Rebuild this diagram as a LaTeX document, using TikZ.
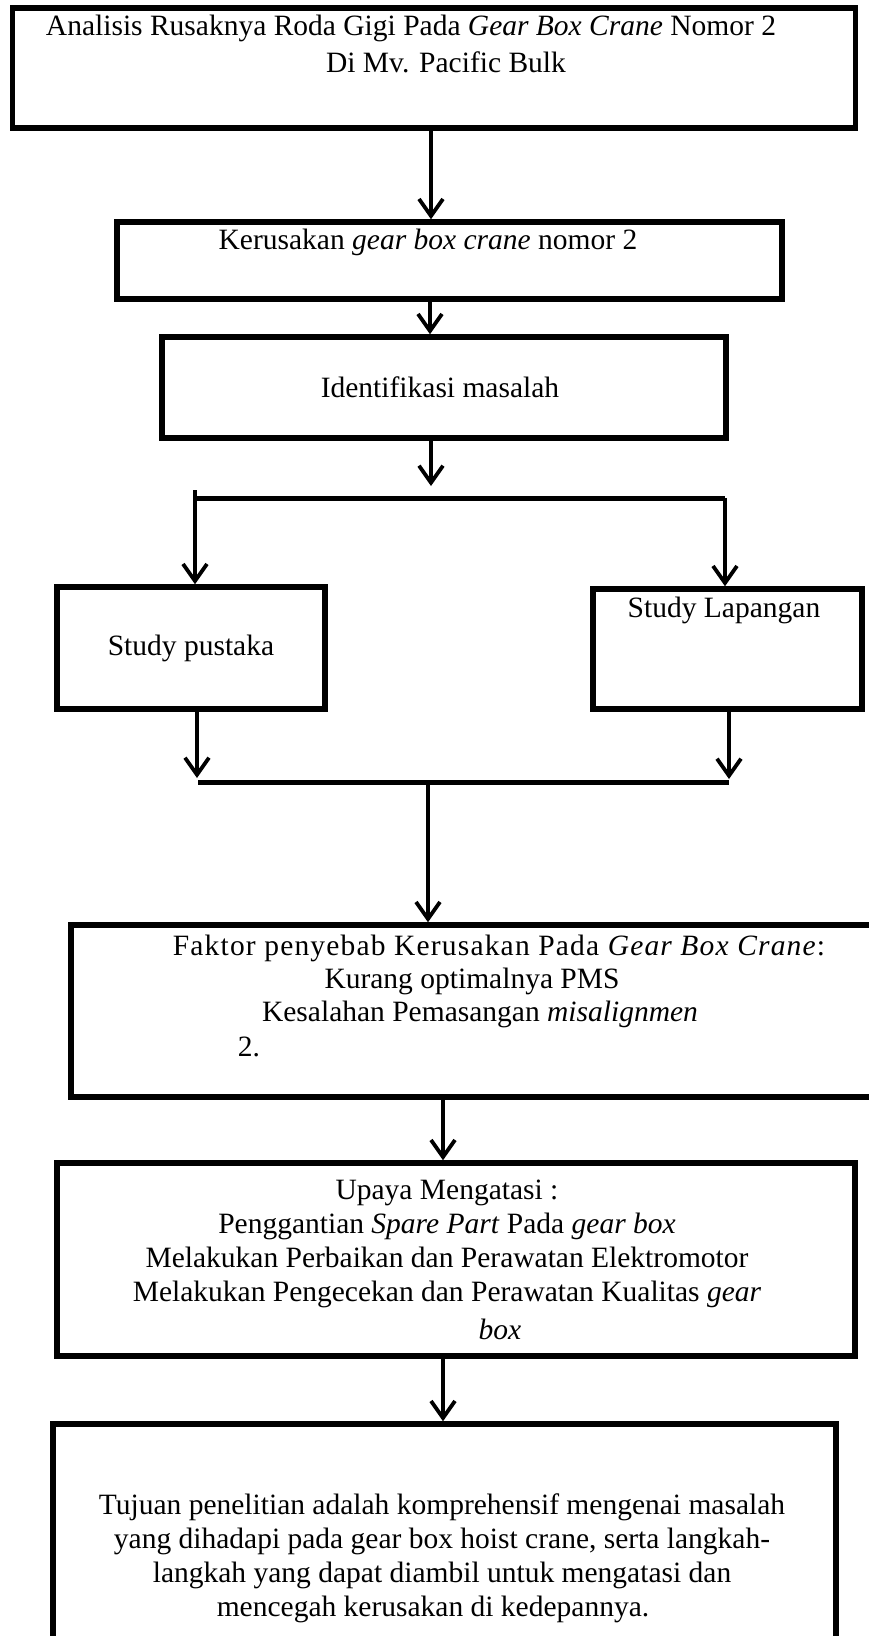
\documentclass[tikz,border=0pt]{standalone}
\usepackage{fontspec}
\setmainfont{Liberation Serif}
\usetikzlibrary{arrows.meta}

\tikzset{
  box/.style={draw, rectangle, line width=5.5pt, inner sep=0pt},
  txt/.style={inner sep=0pt, align=center, font=\fontsize{29.5}{34}\selectfont},
  arr/.style={line width=3.8pt, -{Straight Barb[length=17pt,width=24pt]}},
  bar/.style={line width=5pt}
}

\begin{document}
\begin{tikzpicture}[x=1pt,y=-1pt]
\useasboundingbox (0,0) rectangle (869,1636);

% kotak-kotak
\node[box, minimum width=843pt, minimum height=120pt] (judul) at (434,68) {};
\node[box, minimum width=665pt, minimum height=77pt] (rusak) at (449.5,260.5) {};
\node[box, txt, minimum width=564pt, minimum height=101pt] (ident) at (444,387.5) {\hspace*{-8pt}Identifikasi masalah};
\node[box, txt, minimum width=268pt, minimum height=122pt] (pustaka) at (191,648) {Study pustaka};
\node[box, minimum width=269pt, minimum height=120pt] (lapangan) at (727.5,649) {};
\node[box, minimum width=829pt, minimum height=172pt] (faktor) at (485.5,1011) {};
\node[box, minimum width=798pt, minimum height=193pt] (upaya) at (456,1259.5) {};
\node[box, minimum width=783pt, minimum height=256pt] (tujuan) at (444.5,1552) {};

% teks
\node[txt] (t1a) at (411,28) {Analisis Rusaknya Roda Gigi Pada \textit{Gear Box Crane} Nomor 2};
\node[txt] (t1b) at (446,62) {Di Mv. Pacific Bulk};
\node[txt] (t2) at (428,242) {Kerusakan \textit{gear box crane} nomor 2};
\node[txt] (t5) at (724,610) {Study Lapangan};
\node[txt] (t6a) at (499,948) {\addfontfeature{LetterSpace=4}Faktor penyebab Kerusakan Pada \textit{Gear Box Crane}:};
\node[txt] (t6b) at (472,981) {Kurang optimalnya PMS};
\node[txt] (t6c) at (480,1014) {Kesalahan Pemasangan \textit{misalignmen}};
\node[txt] (t6d) at (249,1047) {2.};
\node[txt] (t7) at (447,1260) {Upaya Mengatasi :\\
  Penggantian \textit{Spare Part} Pada \textit{gear box}\\
  Melakukan Perbaikan dan Perawatan Elektromotor\\
  Melakukan Pengecekan dan Perawatan Kualitas \textit{gear}\\[4pt]
  \hspace*{106pt}\textit{box}};
\node[txt] (t8) at (442,1558) {Tujuan penelitian adalah komprehensif mengenai masalah\\
  yang dihadapi pada gear box hoist crane, serta langkah-\\
  langkah yang dapat diambil untuk mengatasi dan\\
  \hspace*{-18pt}mencegah kerusakan di kedepannya.};

% titik bantu
\coordinate (xa) at (431,0);
\coordinate (xb) at (430,0);
\coordinate (xc) at (443,0);
\coordinate (ujung) at (431,486);
\coordinate (kiri) at (195,498);
\coordinate (tik) at (195,490);
\coordinate (kanan) at (725,498);
\coordinate (gkiri) at (198,782);
\coordinate (gkanan) at (729,782);
\coordinate (gtengah) at (428,782);
\coordinate (akiri) at (197,778);
\coordinate (akanan) at (729,779);

% panah
\draw[arr] (judul.south -| xa) -- (rusak.north -| xa);
\draw[arr] (rusak.south -| xb) -- (ident.north -| xb);
\draw[arr] (ident.south -| xa) -- (ujung);
\draw[bar] (kiri) -- (kanan);
\draw[arr] (tik) -- (pustaka.north -| tik);
\draw[arr] (kanan) -- (lapangan.north -| kanan);
\draw[arr] (pustaka.south -| akiri) -- (akiri);
\draw[arr] (lapangan.south -| akanan) -- (akanan);
\draw[bar] (gkiri) -- (gkanan);
\draw[arr] (gtengah) -- (faktor.north -| gtengah);
\draw[arr] (faktor.south -| xc) -- (upaya.north -| xc);
\draw[arr] (upaya.south -| xc) -- (tujuan.north -| xc);
\end{tikzpicture}
\end{document}
